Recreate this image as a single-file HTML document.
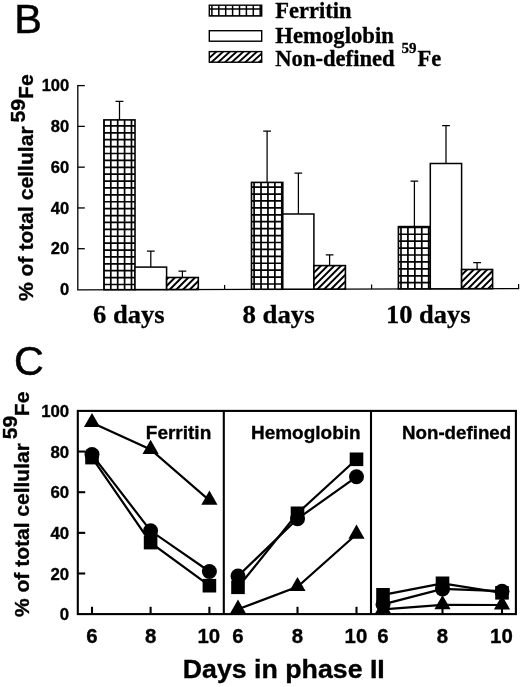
<!DOCTYPE html>
<html><head><meta charset="utf-8"><title>Figure</title>
<style>html,body{margin:0;padding:0;background:#fff;}body{width:520px;height:687px;overflow:hidden;}svg{display:block;}text{font-family:"Liberation Sans",sans-serif;fill:#000;}.s{font-family:"Liberation Serif",serif;font-weight:bold;stroke:#000;stroke-width:0.3px;}.b{font-weight:bold;stroke:#000;stroke-width:0.35px;}.l{stroke:#000;stroke-width:0.5px;}</style></head><body>
<svg width="520" height="687" viewBox="0 0 520 687">
<defs><filter id="bl" x="0" y="0" width="520" height="687" filterUnits="userSpaceOnUse"><feGaussianBlur stdDeviation="0.35"/></filter><clipPath id="c0"><rect x="209.30" y="5.20" width="52.40" height="10.80"/></clipPath><clipPath id="c1"><rect x="209.30" y="51.60" width="52.40" height="10.60"/></clipPath><clipPath id="c2"><rect x="103.90" y="119.90" width="31.10" height="169.78"/></clipPath><clipPath id="c3"><rect x="166.60" y="277.50" width="31.70" height="12.01"/></clipPath><clipPath id="c4"><rect x="251.50" y="182.40" width="31.30" height="106.87"/></clipPath><clipPath id="c5"><rect x="313.90" y="265.60" width="31.50" height="23.49"/></clipPath><clipPath id="c6"><rect x="398.40" y="226.60" width="31.90" height="62.26"/></clipPath><clipPath id="c7"><rect x="461.60" y="269.50" width="31.00" height="19.18"/></clipPath>
</defs>
<rect width="520" height="687" fill="#fff"/>
<g filter="url(#bl)">
<text class="l" x="14.3" y="32.6" font-size="41.5">B</text>
<rect x="209.30" y="5.20" width="52.40" height="10.80" fill="#fff"/>
<path clip-path="url(#c0)" d="M211.90 5.20V16.00M218.80 5.20V16.00M225.70 5.20V16.00M232.60 5.20V16.00M239.50 5.20V16.00M246.40 5.20V16.00M253.30 5.20V16.00M260.20 5.20V16.00M209.30 15.90H261.70M209.30 9.00H261.70" stroke="#000" stroke-width="1.50" fill="none"/>
<rect x="209.30" y="5.20" width="52.40" height="10.80" fill="none" stroke="#000" stroke-width="1.40"/>
<rect x="209.3" y="30.7" width="52.4" height="10.5" fill="#fff" stroke="#000" stroke-width="1.4"/>
<rect x="209.30" y="51.60" width="52.40" height="10.60" fill="#fff"/>
<path clip-path="url(#c1)" d="M182.18 64.20L198.24 49.60M188.96 64.20L205.02 49.60M195.74 64.20L211.80 49.60M202.52 64.20L218.58 49.60M209.30 64.20L225.36 49.60M216.08 64.20L232.14 49.60M222.86 64.20L238.92 49.60M229.64 64.20L245.70 49.60M236.42 64.20L252.48 49.60M243.20 64.20L259.26 49.60M249.98 64.20L266.04 49.60M256.76 64.20L272.82 49.60M263.54 64.20L279.60 49.60" stroke="#000" stroke-width="1.90" fill="none"/>
<rect x="209.30" y="51.60" width="52.40" height="10.60" fill="none" stroke="#000" stroke-width="1.40"/>
<text class="s" x="275.3" y="18" font-size="22.5">Ferritin</text>
<text class="s" x="275.3" y="43" font-size="22.5" textLength="118.6" lengthAdjust="spacingAndGlyphs">Hemoglobin</text>
<text class="s" x="275.3" y="66" font-size="22.5" textLength="119.3" lengthAdjust="spacingAndGlyphs">Non-defined</text>
<text class="s" x="401.5" y="53.2" font-size="15">59</text>
<text class="s" x="417.5" y="66" font-size="22.5">Fe</text>
<path d="M77.8 85.0V289.8L519.2 288.56" stroke="#000" stroke-width="1.3" fill="none"/>
<path d="M77.8 248.72H84.8" stroke="#000" stroke-width="1.3"/>
<path d="M77.8 207.94H84.8" stroke="#000" stroke-width="1.3"/>
<path d="M77.8 167.16H84.8" stroke="#000" stroke-width="1.3"/>
<path d="M77.8 126.38H84.8" stroke="#000" stroke-width="1.3"/>
<path d="M77.8 85.60H84.8" stroke="#000" stroke-width="1.3"/>
<text class="b" x="69.2" y="295.2" font-size="16.5" text-anchor="end">0</text>
<text class="b" x="69.2" y="254.4" font-size="16.5" text-anchor="end">20</text>
<text class="b" x="69.2" y="213.6" font-size="16.5" text-anchor="end">40</text>
<text class="b" x="69.2" y="172.9" font-size="16.5" text-anchor="end">60</text>
<text class="b" x="69.2" y="132.1" font-size="16.5" text-anchor="end">80</text>
<text class="b" x="69.2" y="91.3" font-size="16.5" text-anchor="end">100</text>
<path d="M224.6 289.4V284.9" stroke="#000" stroke-width="1.2"/>
<path d="M371.6 289.0V284.5" stroke="#000" stroke-width="1.2"/>
<path d="M518.6 288.6V284.1" stroke="#000" stroke-width="1.2"/>
<path d="M119.5 119.9V101.3M115.5 101.3H123.4" stroke="#000" stroke-width="1.25" fill="none"/>
<rect x="103.90" y="119.90" width="31.10" height="169.78" fill="#fff"/>
<path clip-path="url(#c2)" d="M103.90 119.90V289.68M110.80 119.90V289.68M117.69 119.90V289.68M124.58 119.90V289.68M131.48 119.90V289.68M103.90 284.50H135.00M103.90 277.61H135.00M103.90 270.71H135.00M103.90 263.82H135.00M103.90 256.92H135.00M103.90 250.03H135.00M103.90 243.13H135.00M103.90 236.24H135.00M103.90 229.34H135.00M103.90 222.45H135.00M103.90 215.55H135.00M103.90 208.66H135.00M103.90 201.76H135.00M103.90 194.86H135.00M103.90 187.97H135.00M103.90 181.07H135.00M103.90 174.18H135.00M103.90 167.28H135.00M103.90 160.39H135.00M103.90 153.49H135.00M103.90 146.60H135.00M103.90 139.70H135.00M103.90 132.81H135.00M103.90 125.91H135.00" stroke="#000" stroke-width="1.70" fill="none"/>
<rect x="103.90" y="119.90" width="31.10" height="169.78" fill="none" stroke="#000" stroke-width="1.60"/>
<path d="M150.8 267.1V251.0M146.9 251.0H154.7" stroke="#000" stroke-width="1.25" fill="none"/>
<rect x="135.0" y="267.1" width="31.6" height="22.5" fill="#fff" stroke="#000" stroke-width="1.5"/>
<path d="M182.4 277.5V271.2M178.5 271.2H186.3" stroke="#000" stroke-width="1.25" fill="none"/>
<rect x="166.60" y="277.50" width="31.70" height="12.01" fill="#fff"/>
<path clip-path="url(#c3)" d="M140.90 291.51L156.91 275.50M147.60 291.51L163.61 275.50M154.30 291.51L170.31 275.50M161.00 291.51L177.01 275.50M167.70 291.51L183.71 275.50M174.40 291.51L190.41 275.50M181.10 291.51L197.11 275.50M187.80 291.51L203.81 275.50M194.50 291.51L210.51 275.50M201.20 291.51L217.21 275.50" stroke="#000" stroke-width="2.00" fill="none"/>
<rect x="166.60" y="277.50" width="31.70" height="12.01" fill="none" stroke="#000" stroke-width="1.60"/>
<path d="M267.1 182.4V131.0M263.2 131.0H271.0" stroke="#000" stroke-width="1.25" fill="none"/>
<rect x="251.50" y="182.40" width="31.30" height="106.87" fill="#fff"/>
<path clip-path="url(#c4)" d="M254.10 182.40V289.27M261.02 182.40V289.27M267.94 182.40V289.27M274.86 182.40V289.27M281.78 182.40V289.27M251.50 284.00H282.80M251.50 277.08H282.80M251.50 270.16H282.80M251.50 263.24H282.80M251.50 256.32H282.80M251.50 249.40H282.80M251.50 242.48H282.80M251.50 235.56H282.80M251.50 228.64H282.80M251.50 221.72H282.80M251.50 214.80H282.80M251.50 207.88H282.80M251.50 200.96H282.80M251.50 194.04H282.80M251.50 187.12H282.80" stroke="#000" stroke-width="1.70" fill="none"/>
<rect x="251.50" y="182.40" width="31.30" height="106.87" fill="none" stroke="#000" stroke-width="1.60"/>
<path d="M298.4 214.0V173.0M294.5 173.0H302.2" stroke="#000" stroke-width="1.25" fill="none"/>
<rect x="282.8" y="214.0" width="31.1" height="75.2" fill="#fff" stroke="#000" stroke-width="1.5"/>
<path d="M329.6 265.6V254.8M325.8 254.8H333.5" stroke="#000" stroke-width="1.25" fill="none"/>
<rect x="313.90" y="265.60" width="31.50" height="23.49" fill="#fff"/>
<path clip-path="url(#c5)" d="M275.45 291.09L302.94 263.60M282.15 291.09L309.64 263.60M288.85 291.09L316.34 263.60M295.55 291.09L323.04 263.60M302.25 291.09L329.74 263.60M308.95 291.09L336.44 263.60M315.65 291.09L343.14 263.60M322.35 291.09L349.84 263.60M329.05 291.09L356.54 263.60M335.75 291.09L363.24 263.60M342.45 291.09L369.94 263.60M349.15 291.09L376.64 263.60" stroke="#000" stroke-width="2.00" fill="none"/>
<rect x="313.90" y="265.60" width="31.50" height="23.49" fill="none" stroke="#000" stroke-width="1.60"/>
<path d="M414.4 226.6V181.0M410.5 181.0H418.2" stroke="#000" stroke-width="1.25" fill="none"/>
<rect x="398.40" y="226.60" width="31.90" height="62.26" fill="#fff"/>
<path clip-path="url(#c6)" d="M401.00 226.60V288.86M407.92 226.60V288.86M414.84 226.60V288.86M421.76 226.60V288.86M428.68 226.60V288.86M398.40 282.70H430.30M398.40 275.78H430.30M398.40 268.86H430.30M398.40 261.94H430.30M398.40 255.02H430.30M398.40 248.10H430.30M398.40 241.18H430.30M398.40 234.26H430.30M398.40 227.34H430.30" stroke="#000" stroke-width="1.70" fill="none"/>
<rect x="398.40" y="226.60" width="31.90" height="62.26" fill="none" stroke="#000" stroke-width="1.60"/>
<path d="M446.0 163.5V125.5M442.1 125.5H449.9" stroke="#000" stroke-width="1.25" fill="none"/>
<rect x="430.3" y="163.5" width="31.3" height="125.3" fill="#fff" stroke="#000" stroke-width="1.5"/>
<path d="M477.1 269.5V262.5M473.2 262.5H481.0" stroke="#000" stroke-width="1.25" fill="none"/>
<rect x="461.60" y="269.50" width="31.00" height="19.18" fill="#fff"/>
<path clip-path="url(#c7)" d="M432.60 290.68L455.78 267.50M439.30 290.68L462.48 267.50M446.00 290.68L469.18 267.50M452.70 290.68L475.88 267.50M459.40 290.68L482.58 267.50M466.10 290.68L489.28 267.50M472.80 290.68L495.98 267.50M479.50 290.68L502.68 267.50M486.20 290.68L509.38 267.50M492.90 290.68L516.08 267.50" stroke="#000" stroke-width="2.00" fill="none"/>
<rect x="461.60" y="269.50" width="31.00" height="19.18" fill="none" stroke="#000" stroke-width="1.60"/>
<text class="s" x="93.0" y="323.4" font-size="26" textLength="71.6" lengthAdjust="spacingAndGlyphs">6 days</text>
<text class="s" x="242.4" y="323.2" font-size="26" textLength="72.3" lengthAdjust="spacingAndGlyphs">8 days</text>
<text class="s" x="386.0" y="323.0" font-size="26" textLength="84.6" lengthAdjust="spacingAndGlyphs">10 days</text>
<g transform="translate(32.6 301) rotate(-90)"><text class="b" x="0" y="0" font-size="21.1">% of total cellular <tspan dx="-1.9" dy="-7.3">59</tspan><tspan dy="7.3">Fe</tspan></text></g>
<text class="l" x="14.0" y="375.0" font-size="41.3">C</text>
<rect x="77.8" y="410.9" width="438.1" height="203.2" fill="none" stroke="#000" stroke-width="2.1"/>
<path d="M223.8 410.9V614.1M371.0 410.9V614.1" stroke="#000" stroke-width="2.1"/>
<path d="M77.8 573.50H85.2" stroke="#000" stroke-width="2.1"/>
<path d="M77.8 532.85H85.2" stroke="#000" stroke-width="2.1"/>
<path d="M77.8 492.20H85.2" stroke="#000" stroke-width="2.1"/>
<path d="M77.8 451.55H85.2" stroke="#000" stroke-width="2.1"/>
<text class="b" x="69.2" y="620.2" font-size="16.8" text-anchor="end">0</text>
<text class="b" x="69.2" y="579.6" font-size="16.8" text-anchor="end">20</text>
<text class="b" x="69.2" y="539.0" font-size="16.8" text-anchor="end">40</text>
<text class="b" x="69.2" y="498.3" font-size="16.8" text-anchor="end">60</text>
<text class="b" x="69.2" y="457.6" font-size="16.8" text-anchor="end">80</text>
<text class="b" x="69.2" y="417.0" font-size="16.8" text-anchor="end">100</text>
<path d="M92.0 614.1V606.8" stroke="#000" stroke-width="2.1"/>
<path d="M150.6 614.1V606.8" stroke="#000" stroke-width="2.1"/>
<path d="M209.4 614.1V606.8" stroke="#000" stroke-width="2.1"/>
<polyline points="92.0,422.7 150.6,449.5 209.4,500.3" fill="none" stroke="#000" stroke-width="2.2"/>
<polyline points="92.0,457.6 150.6,542.6 209.4,585.7" fill="none" stroke="#000" stroke-width="2.2"/>
<polyline points="92.0,454.6 150.6,530.8 209.4,571.5" fill="none" stroke="#000" stroke-width="2.2"/>
<path d="M92.0 412.9L100.1 427.1H83.9Z" fill="#000"/>
<path d="M150.6 439.7L158.7 453.9H142.5Z" fill="#000"/>
<path d="M209.4 490.5L217.5 504.7H201.3Z" fill="#000"/>
<rect x="85.2" y="450.8" width="13.6" height="13.6" fill="#000"/>
<rect x="143.8" y="535.8" width="13.6" height="13.6" fill="#000"/>
<rect x="202.6" y="578.9" width="13.6" height="13.6" fill="#000"/>
<circle cx="92.0" cy="454.6" r="7.5" fill="#000"/>
<circle cx="150.6" cy="530.8" r="7.5" fill="#000"/>
<circle cx="209.4" cy="571.5" r="7.5" fill="#000"/>
<text class="b" x="92.0" y="643.3" font-size="20.4" text-anchor="middle">6</text>
<text class="b" x="150.6" y="643.3" font-size="20.4" text-anchor="middle">8</text>
<text class="b" x="208.8" y="643.3" font-size="20.4" text-anchor="middle">10</text>
<path d="M238.0 614.1V606.8" stroke="#000" stroke-width="2.1"/>
<path d="M297.5 614.1V606.8" stroke="#000" stroke-width="2.1"/>
<path d="M356.5 614.1V606.8" stroke="#000" stroke-width="2.1"/>
<polyline points="238.0,609.3 297.5,586.7 356.5,534.3" fill="none" stroke="#000" stroke-width="2.2"/>
<polyline points="238.0,587.3 297.5,513.3 356.5,459.3" fill="none" stroke="#000" stroke-width="2.2"/>
<polyline points="238.0,576.1 297.5,518.8 356.5,476.8" fill="none" stroke="#000" stroke-width="2.2"/>
<path d="M238.0 599.5L246.1 613.7H229.9Z" fill="#000"/>
<path d="M297.5 576.9L305.6 591.1H289.4Z" fill="#000"/>
<path d="M356.5 524.5L364.6 538.7H348.4Z" fill="#000"/>
<rect x="231.2" y="580.5" width="13.6" height="13.6" fill="#000"/>
<rect x="290.7" y="506.5" width="13.6" height="13.6" fill="#000"/>
<rect x="349.7" y="452.5" width="13.6" height="13.6" fill="#000"/>
<circle cx="238.0" cy="576.1" r="7.5" fill="#000"/>
<circle cx="297.5" cy="518.8" r="7.5" fill="#000"/>
<circle cx="356.5" cy="476.8" r="7.5" fill="#000"/>
<text class="b" x="238.0" y="643.3" font-size="20.4" text-anchor="middle">6</text>
<text class="b" x="297.5" y="643.3" font-size="20.4" text-anchor="middle">8</text>
<text class="b" x="355.9" y="643.3" font-size="20.4" text-anchor="middle">10</text>
<path d="M383.0 614.1V606.8" stroke="#000" stroke-width="2.1"/>
<path d="M442.5 614.1V606.8" stroke="#000" stroke-width="2.1"/>
<path d="M502.0 614.1V606.8" stroke="#000" stroke-width="2.1"/>
<polyline points="383.0,609.3 442.5,604.8 502.0,605.0" fill="none" stroke="#000" stroke-width="2.2"/>
<polyline points="383.0,594.8 442.5,583.3 502.0,592.8" fill="none" stroke="#000" stroke-width="2.2"/>
<polyline points="383.0,604.4 442.5,588.9 502.0,591.2" fill="none" stroke="#000" stroke-width="2.2"/>
<path d="M383.0 599.5L391.1 613.7H374.9Z" fill="#000"/>
<path d="M442.5 595.0L450.6 609.2H434.4Z" fill="#000"/>
<path d="M502.0 595.2L510.1 609.4H493.9Z" fill="#000"/>
<rect x="376.2" y="588.0" width="13.6" height="13.6" fill="#000"/>
<rect x="435.7" y="576.5" width="13.6" height="13.6" fill="#000"/>
<rect x="495.2" y="586.0" width="13.6" height="13.6" fill="#000"/>
<circle cx="383.0" cy="604.4" r="7.5" fill="#000"/>
<circle cx="442.5" cy="588.9" r="7.5" fill="#000"/>
<circle cx="502.0" cy="591.2" r="7.5" fill="#000"/>
<text class="b" x="383.0" y="643.3" font-size="20.4" text-anchor="middle">6</text>
<text class="b" x="442.5" y="643.3" font-size="20.4" text-anchor="middle">8</text>
<text class="b" x="501.4" y="643.3" font-size="20.4" text-anchor="middle">10</text>
<text class="b" x="145.8" y="438.9" font-size="19.0">Ferritin</text>
<text class="b" x="251.0" y="438.9" font-size="19.1" textLength="109.6" lengthAdjust="spacingAndGlyphs">Hemoglobin</text>
<text class="b" x="402.0" y="438.9" font-size="19.1" textLength="109.2" lengthAdjust="spacingAndGlyphs">Non-defined</text>
<text class="b" x="182.8" y="677.8" font-size="26.4" textLength="202" lengthAdjust="spacingAndGlyphs">Days in phase II</text>
<g transform="translate(29.0 617) rotate(-90)"><text class="b" x="0" y="0" font-size="21">% of total cellular<tspan dx="4" dy="-12.5">59</tspan><tspan dx="-0.4" dy="12.5">Fe</tspan></text></g>
</g>
</svg></body></html>
